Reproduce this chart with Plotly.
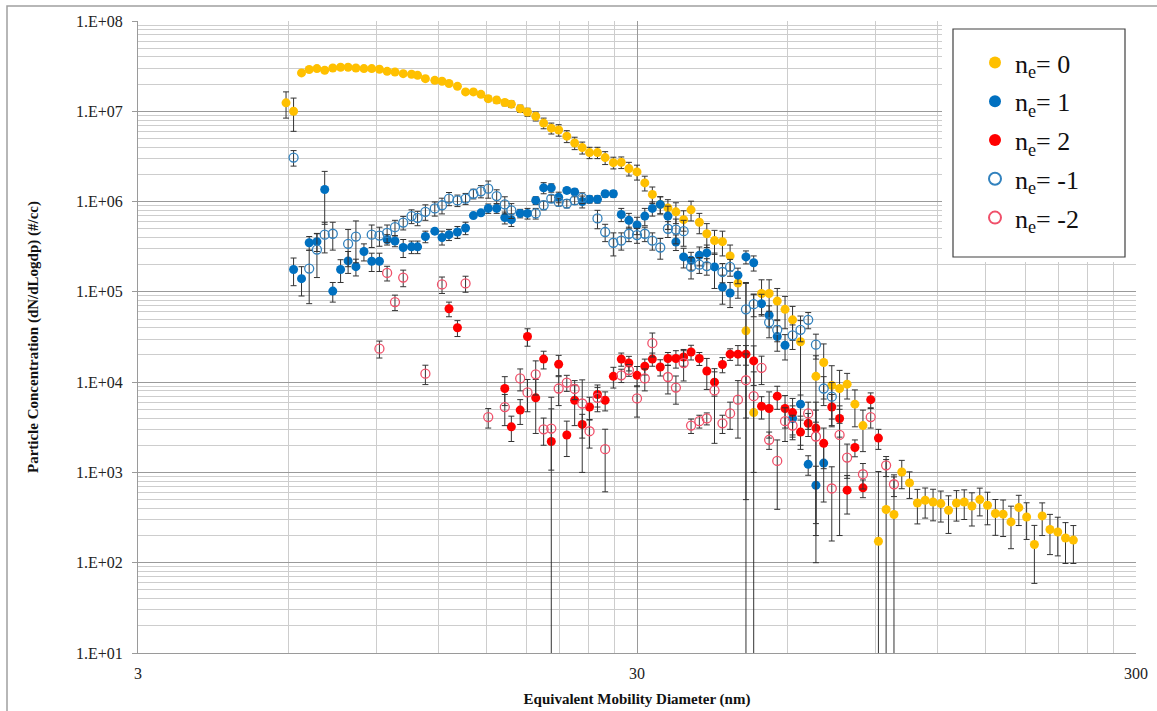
import plotly.graph_objects as go

# ---------------- data ----------------
# n_e = 0
n0_d = [5.94, 6.15, 6.38, 6.61, 6.85, 7.10, 7.37, 7.64, 7.91, 8.20, 8.51, 8.82, 9.14, 9.47, 9.82,
        10.2, 10.6, 10.9, 11.3, 11.8, 12.2, 12.6, 13.1, 13.6, 14.1,
        14.6, 15.1, 15.7, 16.3, 16.8, 17.5, 18.1, 18.8, 19.5, 20.2,
        20.9, 21.7, 22.5, 23.3, 24.1, 25.0, 25.9, 26.9, 27.9, 28.9,
        30.0, 31.1, 32.2, 33.4, 34.6, 35.9, 37.2, 38.5, 40.0, 41.4,
        42.9, 44.5, 46.1, 47.8, 49.6, 51.4, 53.3, 55.2, 57.3, 59.4,
        61.5, 63.8,
        68.5, 71.0, 73.7, 76.4, 79.1, 82.0, 85.1,
        91.4, 94.7, 98.2, 101.8, 105.5, 109.4, 113.4, 117.6, 121.9, 126.3,
        131.0, 135.8, 140.7, 145.9, 151.2, 156.8, 162.5, 168.5, 174.7, 181.1,
        187.7, 194.6, 201.7, 209.1, 216.7, 224.7]
n0_y = [1.24e7, 1.0e7, 2.66e7, 2.9e7, 2.97e7, 2.85e7, 3.02e7, 3.07e7, 3.07e7, 3.02e7, 2.97e7, 2.97e7, 2.92e7, 2.77e7, 2.72e7,
        2.61e7, 2.57e7, 2.5e7, 2.3e7, 2.2e7, 2.15e7, 2.03e7, 1.89e7, 1.64e7, 1.64e7,
        1.54e7, 1.38e7, 1.33e7, 1.25e7, 1.2e7, 1.07e7, 9.8e6, 8.8e6, 7.4e6, 6.5e6,
        6.2e6, 5.3e6, 4.46e6, 3.96e6, 3.49e6, 3.49e6, 3.07e6, 2.7e6, 2.72e6, 2.32e6,
        2.13e6, 1.61e6, 1.2e6, 9.3e5, 8.5e5, 7.7e5, 6.3e5, 8.1e5, 5.9e5, 4.4e5,
        3.7e5, 3.6e5, 2.5e5, 1.25e5, 3.7e4, 4.6e3, 9.6e4, 9.6e4, 7.9e4, 6.4e4,
        4.9e4, 2.8e4,
        1.16e4, 1.65e4, 9.2e3, 8.5e3, 9.5e3, 5.7e3, 3.3e3,
        173, 388, 342, 1010, 765, 459, 492, 471, 452, 381,
        459, 471, 425, 500, 433, 351, 345, 283, 408, 321,
        159, 330, 233, 219, 188, 178]
n0_err = [4.0e6, 4.0e6, 1.5e6, 1.5e6, 1.5e6, 1.5e6, 1.5e6, 1.5e6, 1.5e6, 1.5e6, 1.5e6, 1.5e6, 1.5e6, 1.4e6, 1.4e6,
          1.3e6, 1.3e6, 1.3e6, 1.2e6, 1.2e6, 1.1e6, 1.1e6, 1.0e6, 1.0e6, 1.0e6,
          1.0e6, 1.0e6, 1.0e6, 1.0e6, 1.0e6, 1.0e6, 1.0e6, 1.0e6, 1.0e6, 9e5,
          9e5, 8e5, 7e5, 6e5, 5e5, 5e5, 5e5, 4e5, 4e5, 4e5,
          4e5, 3e5, 2.5e5, 2e5, 2e5, 2e5, 1.6e5, 2e5, 1.5e5, 1.3e5,
          1.1e5, 1.1e5, 8e4, 4e4, 9e4, 9e4, 4e4, 4e4, 3e4, 2.5e4,
          2e4, 2.6e4,
          8e3, 1e4, 6e3, 5e3, 3e3, 2.5e3, 1.6e3,
          850, 1000, 550, 350, 250, 190, 180, 180, 170, 170,
          170, 170, 170, 170, 170, 150, 150, 140, 150, 140,
          100, 130, 110, 100, 90, 80]

# n_e = 1
n1_d = [6.15, 6.38, 6.61, 6.85, 7.10, 7.37, 7.64, 7.91, 8.20, 8.51, 8.82, 9.14, 9.47, 9.82,
        10.2, 10.6, 10.9, 11.3, 11.8, 12.2, 12.6, 13.1, 13.6, 14.1,
        14.6, 15.1, 15.7, 16.3, 16.8, 17.5, 18.1, 18.8, 19.5, 20.2,
        20.9, 21.7, 22.5, 23.3, 24.1, 25.0, 25.9, 26.9, 27.9, 28.9,
        30.0, 31.1, 32.2, 33.4, 34.6, 35.9, 37.2, 38.5, 40.0, 41.4,
        42.9, 44.5, 46.1, 47.8, 49.6, 51.4, 53.3, 55.2, 57.3, 59.4,
        61.5, 63.8, 66.1, 68.5, 71.0]
n1_y = [1.77e5, 1.4e5, 3.5e5, 3.6e5, 1.36e6, 1.02e5, 1.77e5, 2.2e5, 1.9e5, 2.8e5, 2.18e5, 2.18e5, 3.8e5, 3.66e5,
        3.1e5, 3.15e5, 3.15e5, 4.1e5, 4.7e5, 4.0e5, 4.3e5, 4.6e5, 5.1e5, 7.0e5,
        7.5e5, 8.4e5, 8.4e5, 6.65e5, 6.3e5, 7.4e5, 7.4e5, 1.03e6, 1.42e6, 1.42e6,
        1.12e6, 1.33e6, 1.28e6, 1.0e6, 1.06e6, 1.06e6, 1.22e6, 1.22e6, 7.2e5, 6.2e5,
        5.5e5, 6.9e5, 8.4e5, 9.3e5, 6.9e5, 3.57e5, 2.44e5, 2.24e5, 2.54e5, 2.7e5,
        1.89e5, 1.13e5, 9.7e4, 1.53e5, 2.44e5, 2.1e5, 7.4e4, 5.5e4, 3.2e4, 2.56e4,
        3.96e3, 5.7e3, 1.23e3, 721, 1.27e3]
n1_err = [6e4, 5e4, 6e4, 8e4, 8e5, 2.5e4, 5e4, 6e4, 4e4, 6e4, 5e4, 5e4, 5e4, 5e4,
          7e4, 5e4, 5e4, 6e4, 3e4, 7e4, 6e4, 7e4, 8e4, 3e4,
          3e4, 1e5, 1e5, 1e5, 1e5, 8e4, 1e5, 1e5, 2e5, 1.5e5,
          1.5e5, 1e5, 1e5, 1.5e5, 1e5, 1e5, 1e5, 1e5, 1.2e5, 1.2e5,
          1.2e5, 1.5e5, 1.5e5, 2e5, 2e5, 7e4, 6e4, 5e4, 6e4, 6e4,
          8e4, 4e4, 3e4, 3e4, 4e4, 4e4, 2e4, 1.5e4, 1e4, 8e3,
          1.5e3, 1.5e3, 3e2, 450, 800]

# n_e = 2
n2_d = [12.6, 13.1, 16.3, 16.8, 17.5, 18.1, 18.8, 19.5, 20.2, 20.9,
        21.7, 22.5, 23.3, 24.1, 25.0, 25.9, 26.9, 27.9, 28.9, 30.0,
        31.1, 32.2, 33.4, 34.6, 35.9, 37.2, 38.5, 40.0, 41.4, 42.9,
        44.5, 46.1, 47.8, 49.6, 51.4, 53.3, 55.2, 57.3, 59.4, 61.5,
        63.8, 66.1, 68.5, 71.0, 73.7, 76.4, 79.1, 82.0, 85.1, 88.2, 91.4]
n2_y = [6.5e4, 4.0e4, 8.5e3, 3.2e3, 4.9e3, 3.2e4, 6.7e3, 1.8e4, 2.2e3, 1.58e4,
        2.6e3, 6.3e3, 3.4e3, 5.3e3, 7.3e3, 6.3e3, 1.16e4, 1.8e4, 1.63e4, 1.19e4,
        1.5e4, 1.8e4, 1.47e4, 1.83e4, 1.83e4, 1.9e4, 2.16e4, 1.83e4, 1.33e4, 1.0e4,
        1.57e4, 2.04e4, 2.04e4, 2.04e4, 1.72e4, 5.4e3, 5.1e3, 7.0e3, 5.1e3, 4.6e3,
        2.8e3, 3.5e3, 3.1e3, 2.1e3, 5.3e3, 3.96e3, 636, 1.89e3, 675, 6.4e3, 2.4e3]
n2_err = [1.2e4, 8e3, 3e3, 1e3, 1.5e3, 7e3, 4e3, 4e3, 4.6e3, 4e3,
          1.1e3, 3e3, 1e3, 1.5e3, 2e3, 1.5e3, 3e3, 3e3, 3e3, 3e3,
          3e3, 3e3, 3e3, 3e3, 4e3, 4e3, 4e3, 3e3, 5e3, 3e3,
          3e3, 3e3, 5e3, 5e3, 8e3, 1.5e3, 2.7e3, 2e3, 2e3, 2e3,
          1e3, 1e3, 2.9e3, 1e3, 2e3, 1.5e3, 290, 400, 150, 1.2e3, 600]

# n_e = -1
nm1_d = [6.15, 6.61, 6.85, 7.10, 7.37, 7.91, 8.20, 8.82, 9.14, 9.47, 9.82,
         10.2, 10.6, 10.9, 11.3, 11.8, 12.2, 12.6, 13.1, 13.6, 14.1,
         14.6, 15.1, 15.7, 16.3, 16.8,
         18.8, 19.5, 20.2, 20.9, 21.7, 22.5, 23.3,
         25.0, 25.9, 26.9, 27.9, 28.9, 30.0, 31.1, 32.2, 33.4, 34.6,
         35.9, 37.2, 38.5, 40.0, 41.4, 44.5, 46.1, 49.6, 51.4, 55.2,
         57.3, 61.5, 63.8, 66.1, 68.5, 71.0, 73.7]
nm1_y = [3.07e6, 1.81e5, 2.94e5, 4.3e5, 4.4e5, 3.4e5, 4.1e5, 4.3e5, 4.2e5, 4.5e5, 5.2e5,
         5.85e5, 6.9e5, 6.6e5, 7.7e5, 8.4e5, 9.1e5, 1.08e6, 1.03e6, 1.08e6, 1.22e6,
         1.3e6, 1.39e6, 1.15e6, 9.3e5, 8.0e5,
         7.4e5, 9.1e5, 1.08e6, 9.9e5, 9.5e5, 1.03e6, 1.1e6,
         6.5e5, 4.6e5, 3.5e5, 3.7e5, 4.4e5, 4.25e5, 4.4e5, 3.7e5, 3.1e5, 5.0e5,
         4.9e5, 4.7e5, 1.89e5, 2.0e5, 1.93e5, 1.66e5, 1.89e5, 6.4e4, 7.3e4, 4.6e4,
         3.8e4, 3.3e4, 3.8e4, 4.9e4, 2.6e4, 8.5e3, 6.9e3]
nm1_err = [6e5, 1.07e5, 1.5e5, 1.6e5, 1.5e5, 1.5e5, 2e5, 1.2e5, 1e5, 1e5, 1e5,
           1e5, 1.2e5, 1.2e5, 1.5e5, 1.5e5, 1.8e5, 1.8e5, 1.5e5, 1.5e5, 1.5e5,
           2e5, 3e5, 2e5, 2e5, 1.5e5,
           1e5, 1e5, 1e5, 1e5, 1e5, 1e5, 1.5e5,
           1.5e5, 1e5, 1e5, 8e4, 8e4, 8e4, 8e4, 8e4, 8e4, 1e5,
           1.5e5, 1.5e5, 5e4, 4e4, 4e4, 4e4, 4e4, 6e4, 2e4, 1.5e4,
           1e4, 1e4, 1e4, 1e4, 8e3, 3e3, 3e3]

# n_e = -2
nm2_d = [9.14, 9.47, 9.82, 10.2, 11.3, 12.2, 13.6, 15.1, 16.3, 17.5,
         18.1, 18.8, 19.5, 20.2, 20.9, 21.7, 22.5, 23.3, 24.1, 25.0,
         25.9, 27.9, 28.9, 30.0, 31.1, 32.2, 34.6, 35.9, 37.2, 38.5,
         40.0, 41.4, 42.9, 44.5, 46.1, 47.8, 49.6, 51.4, 53.3, 55.2,
         57.3, 59.4, 61.5, 66.1, 68.5, 73.7, 76.4, 79.1, 85.1, 88.2,
         94.7, 98.2]
nm2_y = [2.35e4, 1.62e5, 7.7e4, 1.44e5, 1.24e4, 1.21e5, 1.24e5, 4.1e3, 5.3e3, 1.1e4,
         7.7e3, 1.22e4, 3.0e3, 3.06e3, 8.5e3, 9.9e3, 8.4e3, 5.8e3, 2.86e3, 6.7e3,
         1.81e3, 1.19e4, 1.36e4, 6.6e3, 1.1e4, 2.7e4, 1.14e4, 8.7e3, 1.63e4, 3.3e3,
         3.7e3, 3.96e3, 8.1e3, 3.5e3, 4.5e3, 6.4e3, 1.05e4, 7.0e3, 1.44e4, 2.3e3,
         1.34e3, 3.7e3, 3.3e3, 4.5e3, 2.5e3, 664, 2.6e3, 1.46e3, 955, 4.1e3,
         1.2e3, 740]
nm2_err = [5e3, 3e4, 1.5e4, 3e4, 3e3, 2.5e4, 2.5e4, 1e3, 2e3, 3e3,
           3e3, 5e3, 1e3, 2e3, 3e3, 2e3, 2e3, 4.8e3, 1e3, 2e3,
           1.2e3, 2e3, 2e3, 2.5e3, 3e3, 8e3, 4e3, 3e3, 6e3, 600,
           600, 600, 6e3, 800, 1.5e3, 4e3, 1e4, 6e3, 5e3, 500,
           950, 1.5e3, 1e3, 1.5e3, 2.4e3, 490, 2.4e3, 600, 300, 1e3,
           300, 200]

x_ticks = [3, 30, 300]
y_ticks = [1e1, 1e2, 1e3, 1e4, 1e5, 1e6, 1e7, 1e8]
y_ticktext = ["1.E+01", "1.E+02", "1.E+03", "1.E+04", "1.E+05", "1.E+06", "1.E+07", "1.E+08"]

# ---------------- figure ----------------
FONT = "Liberation Serif"
W, H = 1157, 711
ML, MR, MT, MB = 138, 21, 21, 58
PW, PH = W - ML - MR, H - MT - MB


def px2x(px):
    return (px - ML) / PW


def py2y(py):
    return 1 - (py - MT) / PH


series = [
    ("n<sub>e</sub>= 0", n0_d, n0_y, n0_err, "#FFC000", True),
    ("n<sub>e</sub>= 1", n1_d, n1_y, n1_err, "#0070C0", True),
    ("n<sub>e</sub>= 2", n2_d, n2_y, n2_err, "#FF0000", True),
    ("n<sub>e</sub>= -1", nm1_d, nm1_y, nm1_err, "#3282BE", False),
    ("n<sub>e</sub>= -2", nm2_d, nm2_y, nm2_err, "#F0506A", False),
]

fig = go.Figure()
for i, (name, d, y, e, col, filled) in enumerate(series):
    if filled:
        marker = dict(size=9, color=col, line=dict(width=0))
    else:
        marker = dict(size=9, symbol="circle-open", color=col, line=dict(width=1.3, color=col))
    fig.add_trace(go.Scatter(
        x=d, y=y, mode="markers", name=name, marker=marker,
        legendgroup=f"g{i}",
        error_y=dict(type="data", array=e, symmetric=True, color="#333333",
                     thickness=1, width=3),
    ))

x_minor = [m * b for b in (3, 30) for m in range(2, 10)]
y_minor = [m * 10 ** p for p in range(1, 8) for m in range(2, 10)]

fig.update_layout(
    width=W, height=H,
    margin=dict(l=ML, r=MR, t=MT, b=MB, autoexpand=False),
    paper_bgcolor="white", plot_bgcolor="white",
    font=dict(family=FONT, color="#222222"),
    showlegend=True,
    legend=dict(
        x=px2x(975), y=py2y(39), xanchor="left", yanchor="top",
        bgcolor="rgba(0,0,0,0)", borderwidth=0,
        font=dict(family=FONT, size=26, color="#111111"),
        itemsizing="constant", traceorder="grouped", tracegroupgap=2,
    ),
    xaxis=dict(
        type="log", range=[0.47712, 2.47712], automargin=False,
        tickmode="array", tickvals=x_ticks, ticktext=[str(v) for v in x_ticks],
        showgrid=True, gridcolor="#9a9a9a", gridwidth=1,
        minor=dict(tickmode="array", tickvals=x_minor, showgrid=True,
                   gridcolor="#cdcdcd", gridwidth=1),
        showline=True, linecolor="#9a9a9a", linewidth=1,
        ticks="", tickfont=dict(family=FONT, size=16, color="#222222"),
        ticklabelstandoff=6,
        title=dict(text="Equivalent Mobility Diameter (nm)", standoff=12,
                   font=dict(family=FONT, size=15, color="#111111", weight="bold")),
        zeroline=False,
    ),
    yaxis=dict(
        type="log", range=[1, 8], automargin=False,
        tickmode="array", tickvals=y_ticks, ticktext=y_ticktext,
        showgrid=True, gridcolor="#9a9a9a", gridwidth=1,
        minor=dict(tickmode="array", tickvals=y_minor, showgrid=True,
                   gridcolor="#cdcdcd", gridwidth=1),
        showline=True, linecolor="#9a9a9a", linewidth=1,
        ticks="outside", ticklen=5, tickcolor="#9a9a9a",
        tickfont=dict(family=FONT, size=16, color="#222222"),
        ticklabelstandoff=6,
        title=dict(text="Particle Concentration (dN/dLogdp) (#/cc)", standoff=33,
                   font=dict(family=FONT, size=15, color="#111111", weight="bold")),
        zeroline=False,
    ),
    shapes=[
        # white area behind the legend
        dict(type="rect", xref="paper", yref="paper",
             x0=px2x(942), x1=1.0, y0=py2y(262), y1=1.002,
             fillcolor="white", line=dict(width=0), layer="above"),
        # legend frame
        dict(type="rect", xref="paper", yref="paper",
             x0=px2x(953), x1=px2x(1125), y0=py2y(257), y1=py2y(29),
             fillcolor="rgba(0,0,0,0)", line=dict(color="#404040", width=1.2), layer="above"),
        # outer chart border (left/top visible)
        dict(type="rect", xref="paper", yref="paper",
             x0=px2x(7), x1=px2x(1175), y0=py2y(730), y1=py2y(6),
             fillcolor="rgba(0,0,0,0)", line=dict(color="#a0a0a0", width=1.5), layer="below"),
    ],
)

fig.write_html("out.html")
